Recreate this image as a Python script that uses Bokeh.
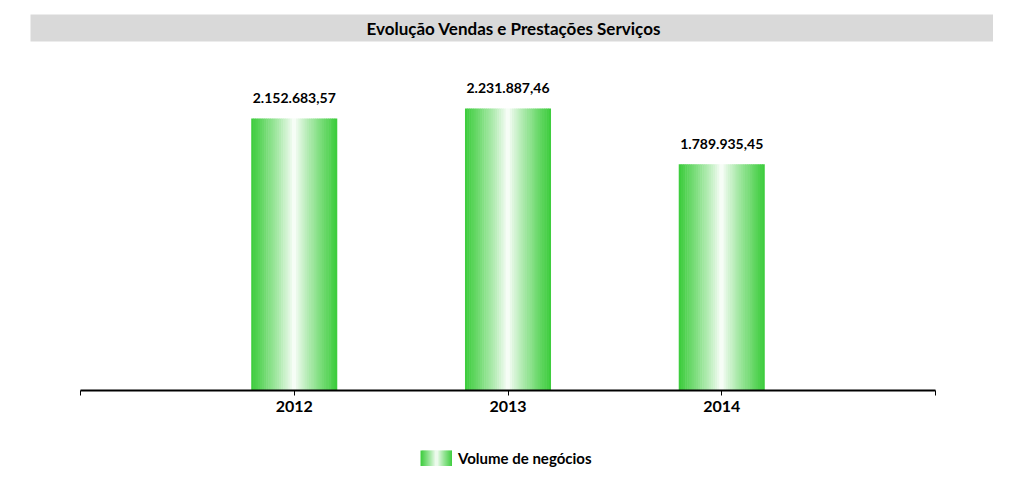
from bokeh.plotting import figure
from bokeh.layouts import column
from bokeh.models import Range1d, FixedTicker, ColumnDataSource, Legend, LegendItem, Title
from bokeh.core.properties import value
from bokeh.embed import file_html
from bokeh.resources import INLINE

# ---- data ----
title_text = "Evolução Vendas e Prestações Serviços"
years = ["2012", "2013", "2014"]
volume = [2152683.57, 2231887.46, 1789935.45]
series_name = "Volume de negócios"

# ---- style ----
FONT = "Lato"
EDGE = (58, 204, 58)
N_STRIPS = 40
BAR_W = 0.4


def shade(t):
    """t = 0 at bar centre (white), 1 at the edge (green)."""
    s = t ** 0.85
    return "#%02x%02x%02x" % tuple(round(255 + (c - 255) * s) for c in EDGE)


def fmt_pt(v):
    return f"{v:,.2f}".replace(",", "X").replace(".", ",").replace("X", ".")


positions = [i + 1 for i in range(len(years))]

# gradient bars built from the data as thin vertical strips
xs, tops, cols, ws = [], [], [], []
for cx, v in zip(positions, volume):
    for k in range(N_STRIPS):
        u = (k + 0.5) / N_STRIPS
        xs.append(cx - BAR_W / 2 + u * BAR_W)
        tops.append(v)
        cols.append(shade(abs(2 * u - 1)))
        ws.append(BAR_W / N_STRIPS * 1.25)
bars = ColumnDataSource(dict(x=xs, top=tops, color=cols, w=ws))
labels = ColumnDataSource(dict(x=positions, y=volume, text=[fmt_pt(v) for v in volume]))

p = figure(width=1023, height=440,
           x_range=Range1d(0, len(years) + 1), y_range=Range1d(0, 2.69e6),
           output_backend="svg", toolbar_location=None, y_axis_type=None,
           min_border_left=80, min_border_right=88, min_border_top=50, min_border_bottom=50)
p.outline_line_color = None
p.xgrid.visible = False
p.ygrid.visible = False
p.background_fill_color = "white"
p.border_fill_color = "white"

p.title = Title(text=title_text, align="left", offset=-50, text_font=FONT,
                text_font_style="bold", text_font_size="17px", text_color="black",
                background_fill_color="#d9d9d9",
                padding=dict(left=336, right=332, top=3, bottom=3), standoff=18)

p.vbar(x="x", top="top", width="w", bottom=0, source=bars,
       fill_color="color", line_color=None)

p.text(x="x", y="y", text="text", source=labels, text_align="center",
       text_baseline="alphabetic", y_offset=-20,
       text_font=value(FONT), text_font_style="bold", text_font_size="14px",
       text_color="black")

ax = p.xaxis[0]
ax.ticker = FixedTicker(ticks=list(range(len(years) + 2)))
overrides = {0: "", len(years) + 1: ""}
for pos, y in zip(positions, years):
    overrides[pos] = y
ax.major_label_overrides = overrides
ax.axis_line_width = 2
ax.axis_line_color = "black"
ax.major_tick_out = 5
ax.major_tick_in = 0
ax.major_tick_line_color = "black"
ax.minor_tick_line_color = None
ax.major_label_standoff = 5
ax.major_label_text_font = FONT
ax.major_label_text_font_style = "bold"
ax.major_label_text_font_size = "16px"
ax.major_label_text_color = "black"

# ---- legend strip (separate small figure) ----
pl = figure(width=1023, height=51, x_range=Range1d(0, 1), y_range=Range1d(0, 1),
            output_backend="svg", toolbar_location=None,
            x_axis_type=None, y_axis_type=None,
            min_border_left=0, min_border_right=0, min_border_top=0, min_border_bottom=0)
pl.outline_line_color = None
pl.xgrid.visible = False
pl.ygrid.visible = False
pl.background_fill_color = "white"
pl.border_fill_color = "white"

# legend swatch: horizontal gradient made of dashed thick line proxies
NS = 16
swatch = []
for k in range(NS):
    u = (k + 0.5) / NS
    r = pl.line(x=[float("nan")], y=[float("nan")], line_width=16,
                line_color=shade(abs(2 * u - 1)), line_cap="butt",
                line_dash=f"0 {2 * k} 3 100")
    swatch.append(r)

legend = Legend(items=[LegendItem(label=series_name, renderers=swatch)],
                location=(340, 24), orientation="horizontal",
                glyph_width=32, glyph_height=16, label_height=16, label_standoff=6,
                padding=0, margin=0, border_line_color=None,
                background_fill_alpha=0,
                label_text_font=FONT, label_text_font_style="bold",
                label_text_font_size="15px", label_text_color="black")
pl.add_layout(legend)

layout = column(p, pl, spacing=0)
open("out.html", "w").write(file_html(layout, INLINE))
